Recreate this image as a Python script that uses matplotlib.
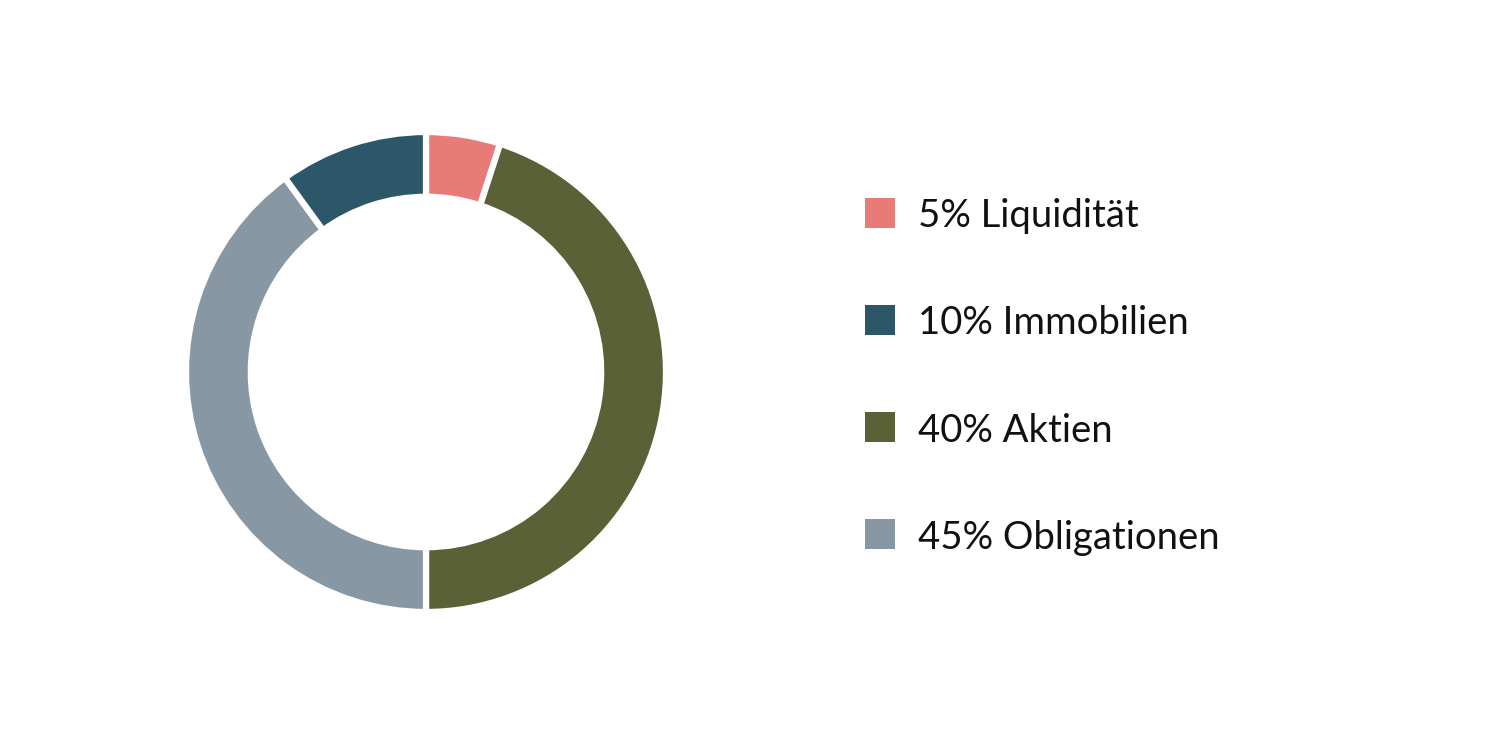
import matplotlib
matplotlib.use("Agg")
import matplotlib.pyplot as plt
from matplotlib.patches import Rectangle

# Wedges as drawn, clockwise from 12 o'clock
wedge_names = ["Liquidität", "Aktien", "Obligationen", "Immobilien"]
wedge_values = [5, 45, 40, 10]
wedge_colors = ["#E87B78", "#5A6137", "#8798A4", "#2B5769"]

# Legend entries (text as printed)
legend_labels = ["5% Liquidität", "10% Immobilien", "40% Aktien", "45% Obligationen"]
legend_colors = ["#E87B78", "#2B5769", "#5A6137", "#8798A4"]

plt.rcParams['font.family'] = ['Lato', 'DejaVu Sans']

W, H = 1500, 750
fig = plt.figure(figsize=(15, 7.5), dpi=100)
fig.patch.set_facecolor("white")

cx, cy, R = 426, 372, 240
ax = fig.add_axes([(cx - R) / W, (H - cy - R) / H, 2 * R / W, 2 * R / H])
ax.pie(wedge_values, colors=wedge_colors, startangle=90, counterclock=False,
       radius=1.0, wedgeprops=dict(width=0.27, edgecolor="white", linewidth=4.5))
ax.set_xlim(-1, 1)
ax.set_ylim(-1, 1)
ax.set_aspect("equal")
ax.axis("off")

# Legend
sq = 30
x_sq = 865
x_txt = 918
y0 = 213
dy = 107
for i, (lab, col) in enumerate(zip(legend_labels, legend_colors)):
    yc = y0 + i * dy
    fig.patches.append(Rectangle(((x_sq) / W, (H - yc - sq / 2) / H), sq / W, sq / H,
                                 transform=fig.transFigure, facecolor=col,
                                 edgecolor="none"))
    fig.text(x_txt / W, (H - yc) / H, lab, fontsize=27.5, color="#111111",
             fontweight="normal", va="center_baseline", ha="left")

fig.savefig("out.png", dpi=100, facecolor="white")
